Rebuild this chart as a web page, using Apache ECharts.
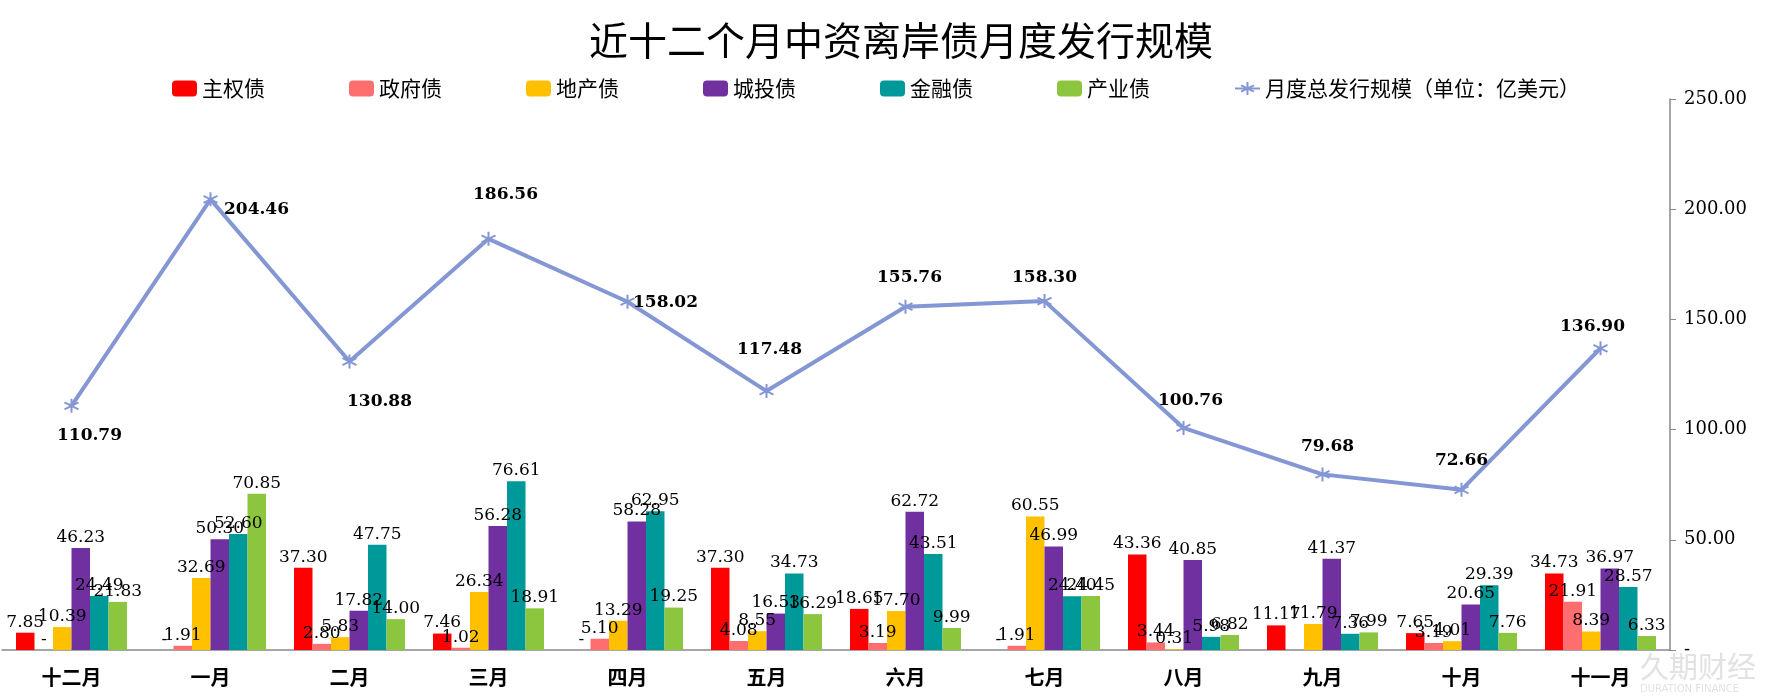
<!DOCTYPE html>
<html lang="zh-CN">
<head>
	<meta charset="UTF-8">
	<title>近十二个月中资离岸债月度发行规模</title>
	<script type="text/javascript" src="https://cdn.jsdelivr.net/npm/echarts@6/dist/echarts.min.js"></script>
	<style>
		html, body, #content {
			width: 100%;
			height: 100%;
			margin: 0;
			background: #fff;
		}
	</style>
</head>
<body>
	<div id="content"></div>
	<script>
		// 月份
		var months = ['十二月', '一月', '二月', '三月', '四月', '五月', '六月', '七月', '八月', '九月', '十月', '十一月'];
		// 各类债券发行规模（亿美元），0 显示为 "-"，空白为 null
		var sovereign = [7.85, 0, 37.30, 7.46, 0, 37.30, 18.65, 0, 43.36, 11.17, 7.65, 34.73];
		var government = [0, 1.91, 2.80, 1.02, 5.10, 4.08, 3.19, 1.91, 3.44, null, 3.19, 21.91];
		var property = [10.39, 32.69, 5.83, 26.34, 13.29, 8.55, 17.70, 60.55, 0.31, 11.79, 4.01, 8.39];
		var lgfv = [46.23, 50.30, 17.82, 56.28, 58.28, 16.53, 62.72, 46.99, 40.85, 41.37, 20.65, 36.97];
		var financial = [24.49, 52.60, 47.75, 76.61, 62.95, 34.73, 43.51, 24.40, 5.98, 7.36, 29.39, 28.57];
		var industrial = [21.83, 70.85, 14.00, 18.91, 19.25, 16.29, 9.99, 24.45, 6.82, 7.99, 7.76, 6.33];
		// 月度总发行规模
		var total = [110.79, 204.46, 130.88, 186.56, 158.02, 117.48, 155.76, 158.30, 100.76, 79.68, 72.66, 136.90];
		// 右轴刻度
		var axisTicks = [0, 50, 100, 150, 200, 250];

		// 折线标签相对数据点的偏移（像素）
		var lineLabelOffset = [[18, 30], [46, 10], [30, 40], [17, -44], [38, 1], [3, -41], [4, -29], [0, -24], [7, -27], [5, -28], [0, -29], [-8, -22]];

		var barNames = ['主权债', '政府债', '地产债', '城投债', '金融债', '产业债'];
		var barData = [sovereign, government, property, lgfv, financial, industrial];
		var barColors = ['#ff0000', '#ff6e6e', '#ffc000', '#7030a0', '#009999', '#8cc63f'];

		var chart = echarts.init(document.getElementById('content'));

		var series = barNames.map(function (name, i) {
			return {
				name: name,
				type: 'bar',
				barWidth: 18.5,
				barGap: '0%',
				itemStyle: { color: barColors[i] },
				label: {
					show: true,
					position: 'top',
					distance: 2,
					fontFamily: 'DejaVu Serif',
					fontSize: 17,
					color: '#000',
					formatter: function (p) {
						return p.value === 0 ? '-' : p.value.toFixed(2);
					}
				},
				data: barData[i]
			};
		});

		series.push({
			name: '月度总发行规模（单位：亿美元）',
			type: 'line',
			z: 5,
			symbol: 'path://M5,0 L5,10 M0.8,2.5 L9.2,7.5 M9.2,2.5 L0.8,7.5',
			symbolSize: 14,
			lineStyle: { color: '#8497d4', width: 4 },
			itemStyle: { color: '#8497d4', borderColor: '#8497d4', borderWidth: 2 },
			label: {
				show: true,
				fontFamily: 'DejaVu Serif',
				fontWeight: 'bold',
				fontSize: 17,
				color: '#000',
				formatter: function (p) { return p.value.toFixed(2); }
			},
			data: total.map(function (v, i) {
				return {
					value: v,
					label: { position: 'inside', offset: lineLabelOffset[i] }
				};
			})
		});

		chart.setOption({
			animation: false,
			title: {
				text: '近十二个月中资离岸债月度发行规模',
				left: 584,
				top: 16,
				textStyle: {
					fontFamily: 'Noto Sans CJK SC',
					fontSize: 39,
					fontWeight: 'normal',
					color: '#000'
				}
			},
			legend: {
				left: 167,
				top: 73,
				itemWidth: 25,
				itemHeight: 16,
				itemGap: 84,
				textStyle: {
					fontFamily: 'Noto Sans CJK SC',
					fontSize: 21,
					color: '#000'
				},
				data: barNames.concat(['月度总发行规模（单位：亿美元）'])
			},
			grid: { left: 2, right: 97, top: 99, bottom: 48, containLabel: false },
			xAxis: {
				type: 'category',
				data: months,
				axisLine: { lineStyle: { color: '#898989', width: 1.5 } },
				axisTick: { show: false },
				axisLabel: {
					margin: 17,
					fontFamily: 'Noto Sans CJK SC',
					fontSize: 20,
					fontWeight: 'bold',
					color: '#000'
				}
			},
			yAxis: {
				type: 'value',
				position: 'right',
				min: axisTicks[0],
				max: axisTicks[axisTicks.length - 1],
				interval: 50,
				axisLine: { show: true, lineStyle: { color: '#898989', width: 1.5 } },
				axisTick: { show: true, inside: false, length: 6, lineStyle: { color: '#898989' } },
				splitLine: { show: false },
				axisLabel: {
					margin: 14,
					fontFamily: 'DejaVu Serif',
					fontSize: 18,
					color: '#000',
					formatter: function (v) { return v === 0 ? '-' : v.toFixed(2); }
				}
			},
			graphic: [
				{
					type: 'text', left: 1640, top: 652, silent: true,
					style: { text: '久期财经', fontFamily: 'Noto Sans CJK SC', fontSize: 29, fill: '#e2e2e2' }
				},
				{
					type: 'text', left: 1640, top: 684, silent: true,
					style: { text: 'DURATION FINANCE', fontFamily: 'DejaVu Sans', fontSize: 10, fill: '#e2e2e2' }
				}
			],
			series: series
		});

		window.onresize = chart.resize;
	</script>
</body>
</html>
